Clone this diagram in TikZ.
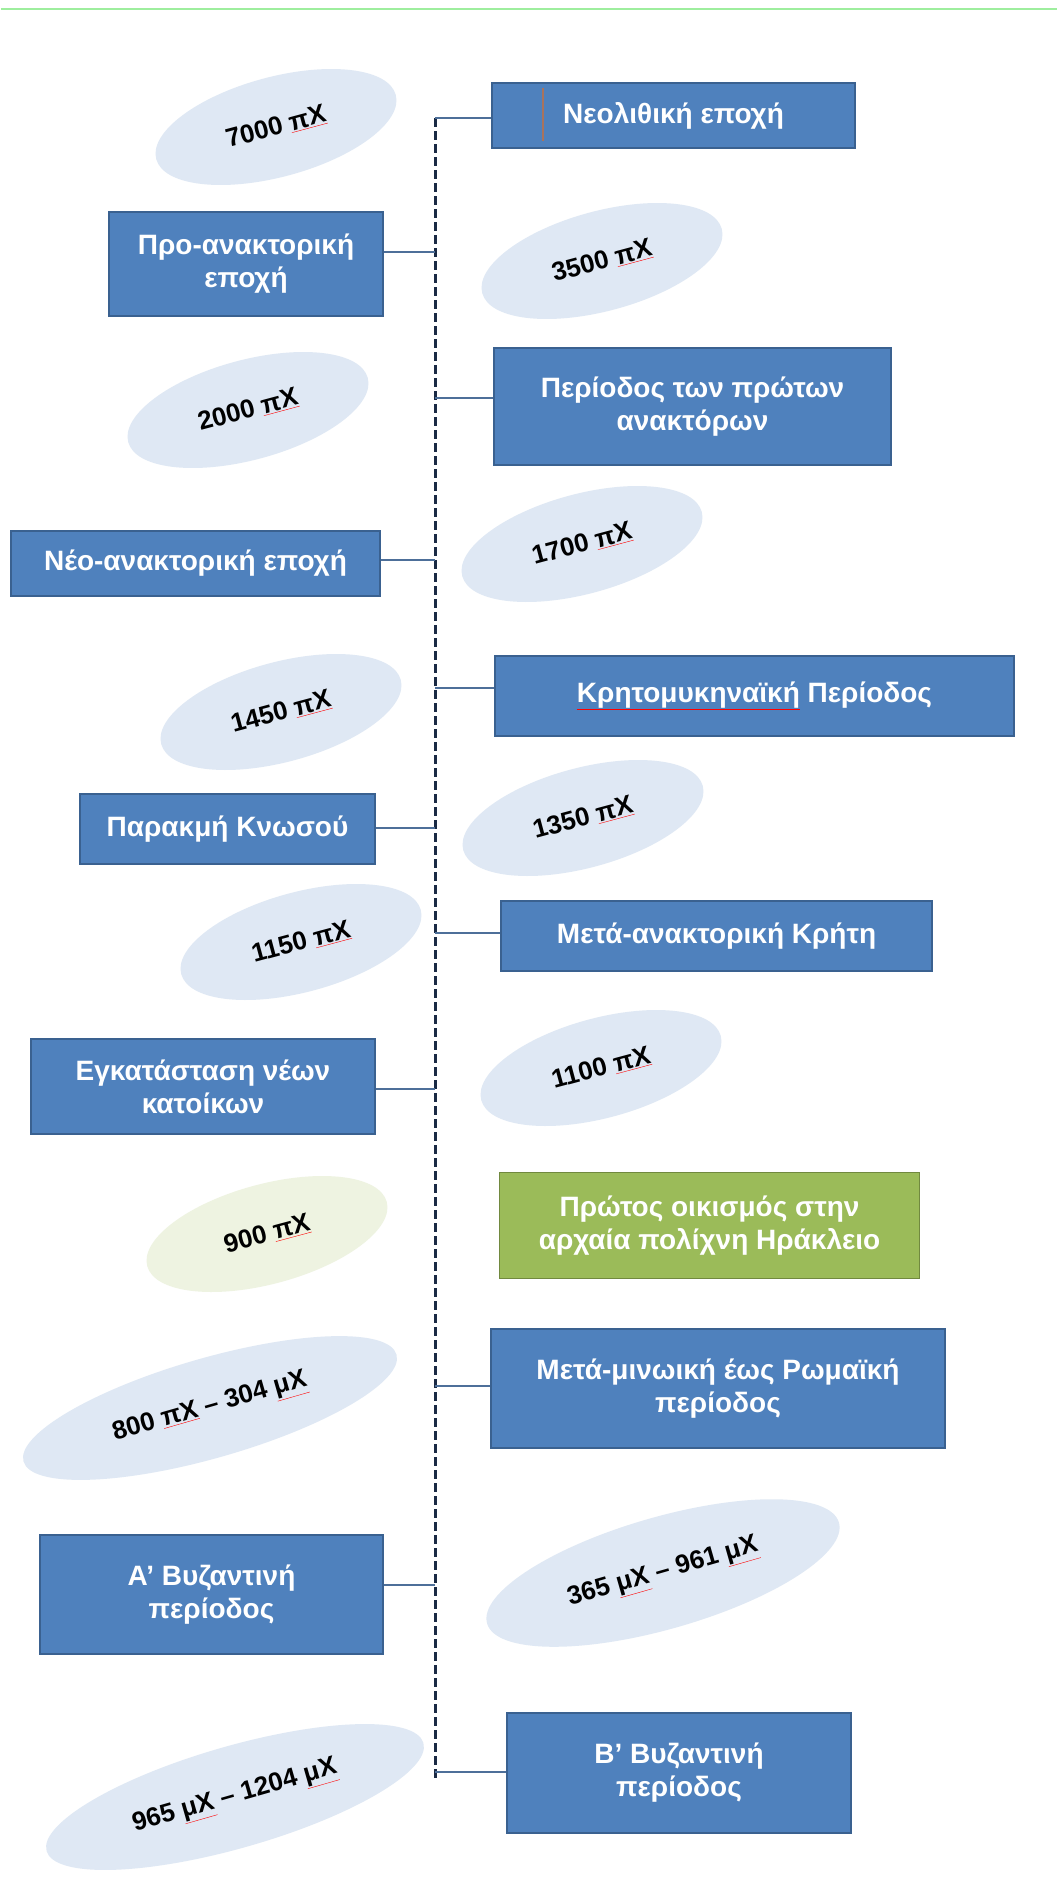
\documentclass[tikz,border=0pt]{standalone}
\usepackage{fontspec}
\setmainfont{Liberation Sans}
\usepackage{xcolor}
\usepackage{tikz}
\usetikzlibrary{shapes.geometric}
\definecolor{eraBlue}{HTML}{4F81BD}
\definecolor{eraEdge}{HTML}{3A6190}
\definecolor{eraGreen}{HTML}{9BBB59}
\definecolor{greenEdge}{HTML}{71893F}
\definecolor{ovalBlue}{HTML}{DFE8F4}
\definecolor{ovalGreen}{HTML}{EEF3E1}
\definecolor{spineInk}{HTML}{1A2A44}
\definecolor{linkInk}{HTML}{4D6F99}
\definecolor{topRule}{HTML}{9EEE9E}
\definecolor{caretInk}{HTML}{A8735E}
\newcommand{\spellmark}[1]{{\color{red}\underline{\color{black}#1}}}
\newcommand{\spellmarkw}[1]{{\color{red}\underline{\color{white}#1}}}
\tikzset{
  era/.style={rectangle,draw=eraEdge,line width=1.5pt,fill=eraBlue,
              text=white,align=center,inner sep=0pt,
              font=\fontsize{28}{33}\selectfont\bfseries},
  eranote/.style={era,draw=greenEdge,fill=eraGreen},
  dateoval/.style={ellipse,fill=ovalBlue,minimum width=248,minimum height=100,
                   inner sep=0pt,rotate=15,
                   font=\fontsize{26}{30}\selectfont\bfseries},
  link/.style={draw=linkInk,line width=1.5pt},
  spine/.style={draw=spineInk,line width=3pt,dash pattern=on 9pt off 4pt},
}

\begin{document}
\begin{tikzpicture}[x=1pt,y=-1pt]
  \fill[white] (0,0) rectangle (1056,1885);
  \draw[topRule,line width=2pt] (0,9) -- (1056,9);
  % dates
  \node[dateoval] (d7000) at (275,127) {7000 \spellmark{πΧ}};
  \node[dateoval] (d3500) at (601,261) {3500 \spellmark{πΧ}};
  \node[dateoval] (d2000) at (247,410) {2000 \spellmark{πΧ}};
  \node[dateoval] (d1700) at (581,544) {1700 \spellmark{πΧ}};
  \node[dateoval] (d1450) at (280,712) {1450 \spellmark{πΧ}};
  \node[dateoval] (d1350) at (582,818) {1350 \spellmark{πΧ}};
  \node[dateoval] (d1150) at (300,942) {1150 \spellmark{πΧ}};
  \node[dateoval] (d1100) at (600,1068) {1100 \spellmark{πΧ}};
  \node[dateoval,fill=ovalGreen] (d900) at (266,1234) {900 \spellmark{πΧ}};
  \node[dateoval,rotate=1,minimum width=388,minimum height=100] (d800) at (209,1408)
       {800 \spellmark{πΧ} – 304 \spellmark{μΧ}};
  \node[dateoval,rotate=1,minimum width=366,minimum height=112] (d365) at (662,1573)
       {365 \spellmark{μΧ} – 961 \spellmark{μΧ}};
  \node[dateoval,rotate=1,minimum width=392,minimum height=102] (d965) at (234,1797)
       {965 \spellmark{μΧ} – 1204 \spellmark{μΧ}};
  % periods
  \node[era,minimum width=363,minimum height=65] (neolithic) at (672.5,115.5) {Νεολιθική εποχή};
  \draw[caretInk,line width=2.5pt] (542,88) -- (542,141);
  \node[era,minimum width=274,minimum height=104] (prepalace) at (245,264) {Προ-ανακτορική\\εποχή};
  \node[era,minimum width=397,minimum height=117] (firstpalace) at (691.5,406.5) {Περίοδος των πρώτων\\ανακτόρων};
  \node[era,minimum width=369,minimum height=65] (neopalace) at (194.5,563.5) {Νέο-ανακτορική εποχή};
  \node[era,minimum width=519,minimum height=80] (cretemyc) at (753.5,696) {\spellmarkw{Κρητομυκηναϊκή} Περίοδος};
  \node[era,minimum width=295,minimum height=70] (knossos) at (226.5,829) {Παρακμή Κνωσού};
  \node[era,minimum width=431,minimum height=70] (postpalace) at (715.5,936) {Μετά-ανακτορική Κρήτη};
  \node[era,minimum width=344,minimum height=95] (settlers) at (202,1086.5) {Εγκατάσταση νέων\\κατοίκων};
  \node[eranote,minimum width=420,minimum height=106] (heraklion) at (708.5,1225.5) {Πρώτος οικισμός στην\\αρχαία πολίχνη Ηράκλειο};
  \node[era,minimum width=454,minimum height=119] (roman) at (717,1388.5) {Μετά-μινωική έως Ρωμαϊκή\\περίοδος};
  \node[era,minimum width=343,minimum height=119] (byzA) at (210.5,1594.5) {Α’ Βυζαντινή\\περίοδος};
  \node[era,minimum width=344,minimum height=120] (byzB) at (678,1773) {Β’ Βυζαντινή\\περίοδος};
  % timeline
  \coordinate (top) at (434,118);
  \coordinate (bottom) at (434,1778);
  \draw[spine] (top) -- (bottom);
  \coordinate (tNeolithic) at (434,118);
  \coordinate (tPre) at (434,252);
  \coordinate (tFirst) at (434,398);
  \coordinate (tNeo) at (434,560);
  \coordinate (tMyc) at (434,688);
  \coordinate (tKnossos) at (434,828);
  \coordinate (tPost) at (434,933);
  \coordinate (tSettlers) at (434,1089);
  \coordinate (tRoman) at (434,1386);
  \coordinate (tByzA) at (434,1585);
  \coordinate (tByzB) at (434,1772);
  \draw[link] (tNeolithic) -- (tNeolithic -| neolithic.west);
  \draw[link] (tPre) -- (tPre -| prepalace.east);
  \draw[link] (tFirst) -- (tFirst -| firstpalace.west);
  \draw[link] (tNeo) -- (tNeo -| neopalace.east);
  \draw[link] (tMyc) -- (tMyc -| cretemyc.west);
  \draw[link] (tKnossos) -- (tKnossos -| knossos.east);
  \draw[link] (tPost) -- (tPost -| postpalace.west);
  \draw[link] (tSettlers) -- (tSettlers -| settlers.east);
  \draw[link] (tRoman) -- (tRoman -| roman.west);
  \draw[link] (tByzA) -- (tByzA -| byzA.east);
  \draw[link] (tByzB) -- (tByzB -| byzB.west);
\end{tikzpicture}
\end{document}
